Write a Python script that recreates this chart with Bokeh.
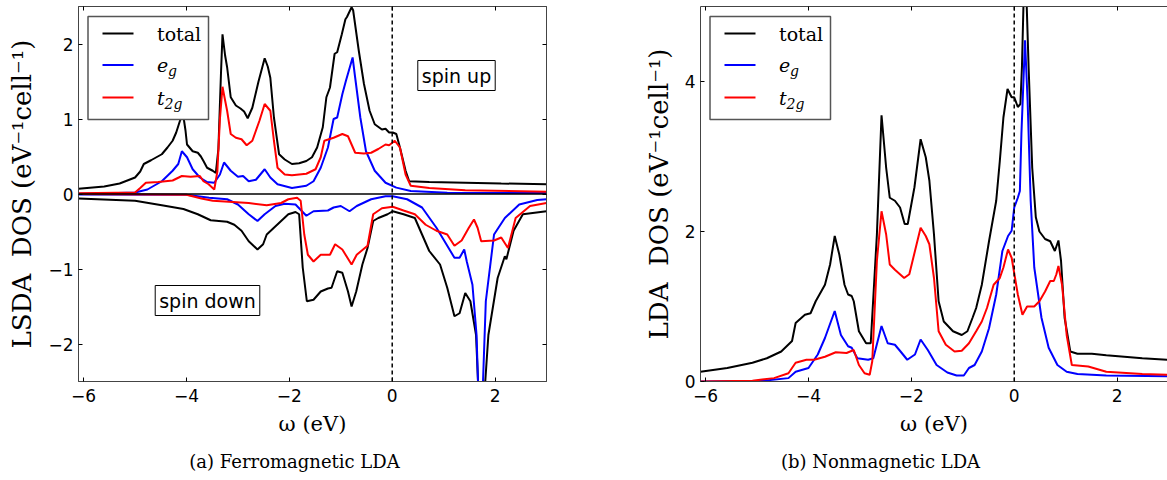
from bokeh.plotting import figure
from bokeh.models import (Range1d, FixedTicker, LinearAxis, Span, Label,
                          BoxAnnotation, PolyAnnotation)
from bokeh.layouts import row
from bokeh.embed import file_html
from bokeh.resources import INLINE

# ---------------- data: (a) ferromagnetic LSDA, spin up ----------------
up_total_x = [-6.1, -5.6, -5.3, -5.0, -4.9, -4.83, -4.69, -4.48, -4.37, -4.27, -4.2, -4.13, -4.07, -4.02, -3.99,
              -3.88, -3.78, -3.72, -3.67, -3.6, -3.49, -3.43, -3.38, -3.33, -3.30, -3.25, -3.21, -3.14, -3.04,
              -2.95, -2.88, -2.81, -2.72, -2.6, -2.48, -2.42, -2.37, -2.30, -2.2, -2.09, -1.95, -1.81, -1.67,
              -1.56, -1.46, -1.35, -1.28, -1.21, -1.12, -1.07, -0.98, -0.91, -0.88, -0.79, -0.76, -0.65, -0.55,
              -0.44, -0.34, -0.2, -0.13, -0.06, 0.01, 0.08, 0.15, 0.26, 0.33, 0.72, 1.42, 2.12, 3.0]
up_total_y = [0.07, 0.10, 0.14, 0.22, 0.30, 0.40, 0.45, 0.53, 0.62, 0.71, 0.82, 0.97, 1.08, 0.85, 0.66,
              0.57, 0.55, 0.50, 0.44, 0.35, 0.31, 0.28, 0.60, 1.6, 2.13, 1.85, 1.69, 1.29, 1.18,
              1.14, 1.10, 1.01, 1.15, 1.5, 1.81, 1.70, 1.55, 1.02, 0.53, 0.46, 0.40, 0.41, 0.44,
              0.49, 0.62, 0.89, 1.29, 1.42, 1.87, 1.89, 2.13, 2.33, 2.36, 2.49, 2.45, 1.91, 1.47,
              1.11, 0.93, 0.86, 0.87, 0.82, 0.82, 0.80, 0.62, 0.31, 0.17, 0.16, 0.15, 0.14, 0.13]

up_eg_x = [-6.1, -5.5, -5.0, -4.76, -4.48, -4.27, -4.16, -4.09, -3.99, -3.88, -3.74, -3.6, -3.46, -3.35, -3.27,
           -3.14, -3.0, -2.9, -2.79, -2.65, -2.48, -2.37, -2.23, -1.95, -1.67, -1.53, -1.39, -1.25, -1.14,
           -1.07, -0.97, -0.9, -0.77, -0.72, -0.62, -0.51, -0.34, -0.13, 0.08, 0.36, 1.07, 3.0]
up_eg_y = [0.005, 0.01, 0.02, 0.06, 0.17, 0.31, 0.40, 0.57, 0.49, 0.33, 0.22, 0.16, 0.15, 0.26, 0.42,
           0.31, 0.23, 0.24, 0.17, 0.19, 0.33, 0.22, 0.13, 0.08, 0.11, 0.17, 0.35, 0.62, 1.0,
           1.02, 1.33, 1.51, 1.82, 1.55, 1.02, 0.57, 0.31, 0.15, 0.085, 0.04, 0.018, 0.013]

up_t2g_x = [-6.1, -5.0, -4.9, -4.79, -4.55, -4.27, -4.09, -3.92, -3.74, -3.67, -3.57, -3.46, -3.40, -3.35,
            -3.30, -3.25, -3.21, -3.14, -3.04, -2.93, -2.83, -2.72, -2.58, -2.48, -2.37, -2.30, -2.23, -2.09,
            -1.95, -1.67, -1.49, -1.39, -1.32, -1.14, -0.97, -0.86, -0.79, -0.72, -0.55, -0.41, -0.27, -0.13,
            -0.06, 0.05, 0.15, 0.26, 0.36, 0.72, 1.42, 3.0]
up_t2g_y = [0.01, 0.02, 0.08, 0.15, 0.16, 0.18, 0.24, 0.23, 0.24, 0.17, 0.13, 0.06, 0.30, 1.0,
            1.43, 1.25, 1.11, 0.80, 0.75, 0.73, 0.65, 0.71, 0.98, 1.20, 1.11, 0.71, 0.35, 0.26,
            0.25, 0.27, 0.33, 0.49, 0.71, 0.75, 0.80, 0.77, 0.66, 0.55, 0.54, 0.55, 0.60, 0.66,
            0.65, 0.71, 0.62, 0.26, 0.11, 0.08, 0.05, 0.03]

# ---------------- data: (a) ferromagnetic LSDA, spin down ----------------
dn_total_x = [-6.1, -5.0, -4.48, -4.06, -3.78, -3.53, -3.21, -3.07, -2.93, -2.79, -2.62, -2.51, -2.44, -2.30,
              -2.16, -2.02, -1.88, -1.81, -1.74, -1.66, -1.53, -1.39, -1.25, -1.18, -1.07, -0.97, -0.86,
              -0.79, -0.70, -0.58, -0.48, -0.37, -0.27, -0.09, 0.01, 0.22, 0.44, 0.58, 0.72, 0.93, 1.07,
              1.21, 1.31, 1.42, 1.52, 1.63, 1.70, 1.76, 1.87, 2.05, 2.19, 2.22, 2.36, 2.54, 3.0]
dn_total_y = [-0.06, -0.09, -0.15, -0.20, -0.27, -0.35, -0.37, -0.41, -0.49, -0.63, -0.74, -0.67, -0.54, -0.45,
              -0.36, -0.27, -0.24, -0.27, -0.98, -1.43, -1.41, -1.30, -1.26, -1.25, -1.03, -1.05, -1.30,
              -1.50, -1.30, -0.94, -0.72, -0.36, -0.32, -0.27, -0.23, -0.27, -0.32, -0.54, -0.76, -0.94, -1.25,
              -1.63, -1.59, -1.32, -1.43, -1.88, -3.0, -3.0, -1.88, -1.12, -0.83, -0.87, -0.49, -0.27, -0.23]

dn_eg_x = [-6.1, -4.0, -3.56, -3.21, -3.0, -2.79, -2.62, -2.48, -2.27, -2.09, -1.88, -1.67, -1.53, -1.25,
           -1.14, -1.0, -0.83, -0.69, -0.41, -0.13, 0.01, 0.29, 0.58, 0.86, 1.21, 1.31, 1.40, 1.45, 1.56,
           1.64, 1.69, 1.74, 1.82, 1.98, 2.19, 2.47, 2.82, 3.0]
dn_eg_y = [-0.005, -0.01, -0.05, -0.07, -0.14, -0.27, -0.36, -0.27, -0.16, -0.13, -0.14, -0.29, -0.23, -0.22,
           -0.18, -0.16, -0.23, -0.16, -0.07, -0.03, -0.03, -0.07, -0.18, -0.45, -0.85, -0.85, -0.74, -0.90, -1.21,
           -1.88, -3.0, -3.0, -1.43, -0.54, -0.32, -0.14, -0.08, -0.07]

dn_t2g_x = [-6.1, -4.0, -3.71, -3.49, -2.79, -2.44, -2.16, -2.02, -1.85, -1.78, -1.71, -1.64, -1.53, -1.39,
            -1.21, -1.11, -0.97, -0.79, -0.69, -0.48, -0.37, -0.20, 0.01, 0.22, 0.44, 0.65, 0.86, 1.07,
            1.21, 1.35, 1.49, 1.59, 1.66, 1.73, 1.98, 2.12, 2.25, 2.40, 2.68, 3.0]
dn_t2g_y = [0.0, -0.01, -0.06, -0.09, -0.12, -0.15, -0.12, -0.07, -0.05, -0.09, -0.54, -0.81, -0.90, -0.81,
            -0.81, -0.67, -0.74, -0.94, -0.81, -0.69, -0.27, -0.19, -0.17, -0.22, -0.27, -0.41, -0.49, -0.54,
            -0.69, -0.62, -0.45, -0.34, -0.45, -0.63, -0.62, -0.58, -0.72, -0.32, -0.16, -0.12]

# ---------------- data: (b) nonmagnetic LDA ----------------
nm_total_x = [-6.1, -5.58, -5.09, -4.81, -4.53, -4.32, -4.25, -4.07, -3.96, -3.86, -3.68, -3.58, -3.49, -3.40,
              -3.30, -3.23, -3.16, -3.12, -3.02, -2.88, -2.79, -2.67, -2.58, -2.49, -2.42, -2.32, -2.22, -2.13,
              -2.07, -1.94, -1.82, -1.72, -1.65, -1.56, -1.47, -1.37, -1.19, -1.02, -0.91, -0.81, -0.74, -0.63,
              -0.49, -0.35, -0.28, -0.21, -0.13, -0.05, 0.0, 0.07, 0.12, 0.15, 0.19, 0.23, 0.28, 0.35, 0.42,
              0.49, 0.60, 0.70, 0.79, 0.86, 0.91, 0.98, 1.09, 1.23, 1.51, 1.79, 2.14, 2.49, 3.0]
nm_total_y = [0.13, 0.18, 0.25, 0.31, 0.40, 0.54, 0.78, 0.89, 0.91, 1.07, 1.29, 1.56, 1.94, 1.69,
              1.29, 1.16, 1.14, 1.07, 0.67, 0.51, 0.51, 1.96, 3.55, 2.85, 2.45, 2.41, 2.32, 2.10,
              2.10, 2.59, 3.23, 2.99, 2.68, 1.96, 1.07, 0.80, 0.67, 0.62, 0.67, 0.85, 0.98, 1.29,
              1.87, 2.41, 2.94, 3.52, 3.90, 3.79, 3.79, 3.66, 3.70, 4.19, 5.3, 5.3, 4.19, 2.85, 2.19,
              2.0, 1.90, 1.87, 1.74, 1.88, 1.61, 0.85, 0.40, 0.37, 0.37, 0.35, 0.33, 0.31, 0.29]

nm_eg_x = [-6.1, -4.88, -4.39, -4.25, -4.0, -3.82, -3.68, -3.49, -3.37, -3.23, -3.16, -3.05, -2.84, -2.74,
           -2.58, -2.46, -2.32, -2.21, -2.08, -1.93, -1.82, -1.68, -1.51, -1.30, -1.12, -0.98, -0.88, -0.77,
           -0.63, -0.49, -0.35, -0.23, -0.12, -0.05, 0.0, 0.07, 0.11, 0.14, 0.21, 0.26, 0.32, 0.39, 0.53,
           0.67, 0.84, 1.02, 1.23, 1.79, 3.0]
nm_eg_y = [0.0, 0.01, 0.045, 0.13, 0.18, 0.36, 0.58, 0.94, 0.62, 0.47, 0.45, 0.31, 0.29, 0.31,
           0.74, 0.51, 0.49, 0.40, 0.29, 0.36, 0.56, 0.42, 0.22, 0.12, 0.08, 0.08, 0.18, 0.22,
           0.40, 0.71, 1.16, 1.74, 1.94, 2.01, 2.32, 2.45, 2.54, 3.30, 4.55, 3.75, 2.41, 1.52, 0.85,
           0.45, 0.22, 0.13, 0.10, 0.08, 0.07]

nm_t2g_x = [-6.1, -5.09, -4.67, -4.39, -4.25, -4.04, -3.89, -3.68, -3.47, -3.26, -3.12, -3.02, -2.91, -2.81,
            -2.76, -2.67, -2.58, -2.49, -2.42, -2.32, -2.14, -2.04, -1.93, -1.82, -1.72, -1.65, -1.56, -1.47,
            -1.33, -1.16, -1.02, -0.88, -0.74, -0.63, -0.53, -0.40, -0.28, -0.21, -0.12, -0.05, 0.07, 0.16,
            0.25, 0.39, 0.49, 0.60, 0.70, 0.77, 0.82, 0.86, 0.93, 1.02, 1.12, 1.44, 1.79, 2.49, 3.0]
nm_t2g_y = [0.0, 0.01, 0.045, 0.11, 0.25, 0.29, 0.29, 0.33, 0.39, 0.38, 0.42, 0.22, 0.11, 0.09,
            0.27, 1.61, 2.27, 1.96, 1.56, 1.49, 1.38, 1.43, 1.74, 2.05, 1.94, 1.83, 1.38, 0.67,
            0.49, 0.40, 0.41, 0.51, 0.67, 0.80, 0.98, 1.29, 1.38, 1.52, 1.76, 1.65, 1.16, 0.89,
            1.0, 1.0, 1.07, 1.20, 1.34, 1.34, 1.43, 1.54, 1.29, 0.62, 0.22, 0.20, 0.13, 0.10, 0.09]

# ---------------- labels ----------------
x_ticks = [-6, -4, -2, 0, 2]
yticks_a = [-2, -1, 0, 1, 2]
yticks_b = [0, 2, 4]
series_names = ["total", "e", "t"]
series_subs = ["", "g", "2g"]
series_colors = ["black", "blue", "red"]
captions = ["(a) Ferromagnetic LDA", "(b) Nonmagnetic LDA"]
ylabels = ["LSDA\u00a0\u00a0DOS (eV\u207b\u00b9cell\u207b\u00b9)", "LDA\u00a0\u00a0DOS (eV\u207b\u00b9cell\u207b\u00b9)"]
xlabel = "\u03c9 (eV)"
spin_texts = ["spin up", "spin down"]

# ---------------- layout constants (page pixels) ----------------
X0 = -6.1
PX_PER_X = 468 / 9.1
FRAME_TOP = 6
FRAME_H = 375
H = 478
SANS = "DejaVu Sans"
SERIF = "DejaVu Serif"
AX_COLOR = "#444444"


def tick_labels(ticks):
    return {t: str(t).replace("-", "\u2212") for t in ticks}


def style_axis(ax, ticks, show_labels=True, line=True):
    ax.ticker = FixedTicker(ticks=ticks)
    ax.major_tick_in = 4
    ax.major_tick_out = 0
    ax.major_tick_line_color = "black"
    ax.minor_tick_line_color = None
    ax.axis_line_color = AX_COLOR if line else None
    if show_labels:
        ax.major_label_overrides = tick_labels(ticks)
        ax.major_label_text_font = SANS
        ax.major_label_text_color = "black"
        ax.major_label_text_font_size = "17px"
    else:
        ax.major_label_text_color = None
        ax.major_label_text_font_size = "1px"
        ax.major_label_standoff = 0


def make_panel(width, frame_left, border_left, frame_w, y0, y1, yticks, ylabel, caption, caption_x,
               right_axis):
    x_end = X0 + frame_w / PX_PER_X
    p = figure(width=width, height=H, x_range=Range1d(X0, x_end), y_range=Range1d(y0, y1),
               output_backend="svg", toolbar_location=None, title=None,
               min_border_left=border_left, min_border_right=width - border_left - frame_w,
               min_border_top=FRAME_TOP, min_border_bottom=H - FRAME_TOP - FRAME_H)
    p.xgrid.visible = False
    p.ygrid.visible = False
    p.background_fill_color = "white"
    p.border_fill_color = "white"
    style_axis(p.xaxis[0], x_ticks)
    style_axis(p.yaxis[0], yticks)
    p.xaxis[0].major_label_standoff = 7
    p.yaxis[0].major_label_standoff = 5
    p.xaxis[0].axis_label = xlabel
    p.yaxis[0].axis_label = ylabel
    for ax, fs, st in ((p.xaxis[0], "21px", 7), (p.yaxis[0], "26px", 8)):
        ax.axis_label_text_font = SERIF
        ax.axis_label_text_font_size = fs
        ax.axis_label_text_font_style = "normal"
        ax.axis_label_text_color = "black"
        ax.axis_label_standoff = st
    top = LinearAxis()
    style_axis(top, x_ticks, show_labels=False)
    p.add_layout(top, "above")
    if right_axis:
        rax = LinearAxis()
        style_axis(rax, yticks, show_labels=False)
        p.add_layout(rax, "right")
        p.outline_line_color = AX_COLOR
    else:
        p.outline_line_color = None
    # sub-figure caption: a tick-less axis below the x axis, one label at caption_x
    cap = LinearAxis(ticker=FixedTicker(ticks=[caption_x]), major_label_overrides={caption_x: caption},
                     axis_line_color=None, major_tick_line_color=None, minor_tick_line_color=None,
                     major_tick_in=0, major_tick_out=0, major_label_standoff=12,
                     major_label_text_font=SERIF, major_label_text_font_size="18px",
                     major_label_text_color="black")
    p.add_layout(cap, "below")
    p.add_layout(Span(location=0, dimension="height", line_dash="4 3", line_color="black", line_width=1.5))

    def dx(px):
        return X0 + (px - frame_left) / PX_PER_X

    def dy(py):
        return y1 - (py - FRAME_TOP) * (y1 - y0) / FRAME_H

    return p, dx, dy


def add_legend(p, dx, dy, fl):
    p.add_layout(BoxAnnotation(left=dx(fl + 9.5), right=dx(fl + 130), top=dy(16), bottom=dy(119),
                               fill_color="white", fill_alpha=1.0, line_color="#555555", line_alpha=1.0,
                               line_width=1.5))
    rows = [33, 64.5, 97]
    for name, sub, col, ry in zip(series_names, series_subs, series_colors, rows):
        p.add_layout(PolyAnnotation(xs=[dx(fl + 24), dx(fl + 55)], ys=[dy(ry), dy(ry)],
                                    fill_alpha=0, line_color=col, line_alpha=1.0, line_width=2))
        italic = "italic" if sub else "normal"
        p.add_layout(Label(x=dx(fl + 78.5), y=dy(ry), text=name, text_font=SERIF, text_font_size="19px",
                           text_font_style=italic, text_baseline="middle", text_align="left", text_color="black"))
        if sub:
            off = 11 if name == "e" else 7.5
            p.add_layout(Label(x=dx(fl + 78.5 + off), y=dy(ry + 6), text=sub, text_font=SERIF,
                               text_font_size="14px", text_font_style=italic, text_baseline="middle",
                               text_align="left", text_color="black"))


def spin_label(p, x, y, text):
    p.add_layout(Label(x=x, y=y, text=text, text_font=SANS, text_font_size="19px", text_align="center",
                       text_baseline="middle", text_color="black", background_fill_color="white",
                       border_line_color="black", border_line_width=1, padding=4))


LW = 2

# ---------- panel (a) ----------
pa, dxa, dya = make_panel(640, 78, 78, 468, -2.5, 2.5, yticks_a, ylabels[0], captions[0], -1.9, True)
pa.add_layout(Span(location=0, dimension="width", line_color="black", line_width=1.5))
for xs, ys, c in ((up_total_x, up_total_y, "black"), (up_eg_x, up_eg_y, "blue"), (up_t2g_x, up_t2g_y, "red"),
                  (dn_total_x, dn_total_y, "black"), (dn_eg_x, dn_eg_y, "blue"), (dn_t2g_x, dn_t2g_y, "red")):
    pa.line(x=xs, y=ys, line_color=c, line_width=LW)
add_legend(pa, dxa, dya, 78)
spin_label(pa, dxa(456), dya(75), spin_texts[0])
spin_label(pa, dxa(207), dya(300), spin_texts[1])

# ---------- panel (b) ----------
pb, dxb, dyb = make_panel(527, 700, 60, 467, 0.0, 5.0, yticks_b, ylabels[1], captions[1], -2.6, False)
for xs, ys, c in ((nm_total_x, nm_total_y, "black"), (nm_eg_x, nm_eg_y, "blue"), (nm_t2g_x, nm_t2g_y, "red")):
    pb.line(x=xs, y=ys, line_color=c, line_width=LW)
add_legend(pb, dxb, dyb, 700)

layout = row(pa, pb)
open("out.html", "w").write(file_html(layout, INLINE))
